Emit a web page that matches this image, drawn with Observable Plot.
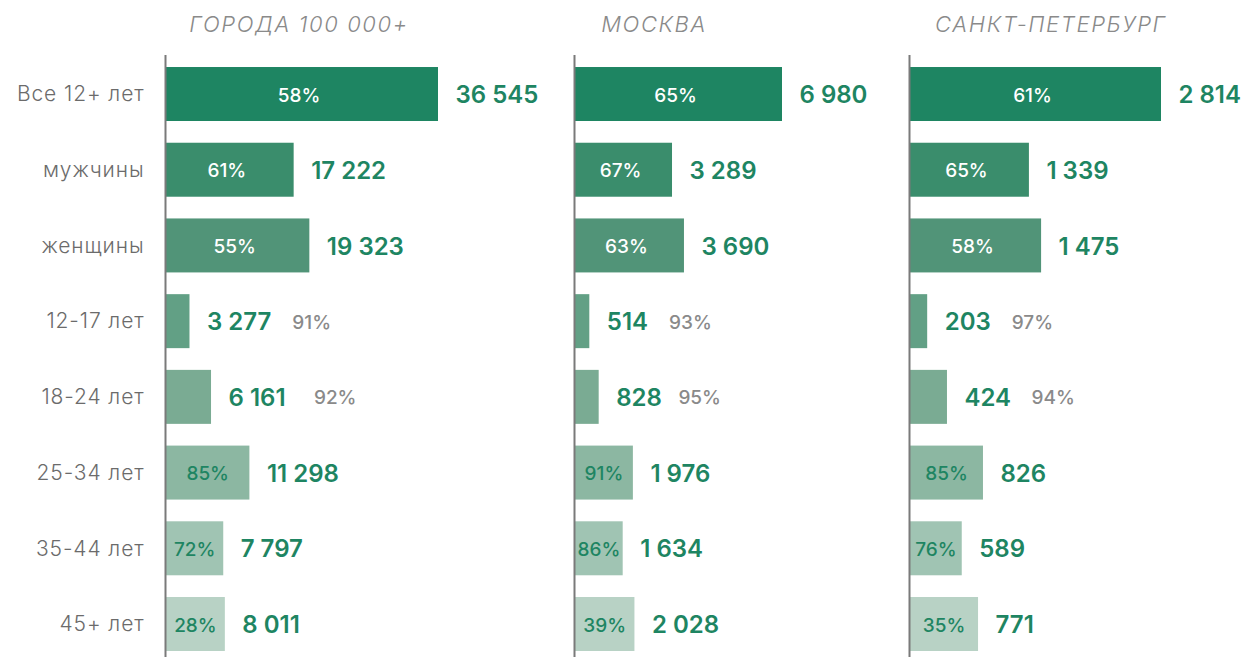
<!DOCTYPE html>
<html>
<head>
<meta charset="utf-8">
<script src="https://cdn.jsdelivr.net/npm/d3@7"></script>
<script src="https://cdn.jsdelivr.net/npm/@observablehq/plot@0.6"></script>
<style>
  body { margin: 0; background: #fff; }
  #wrap { position: relative; width: 1256px; height: 657px; overflow: hidden; font-family: Inter, "Open Sans", sans-serif; }
  .panel { position: absolute; top: 0; }
  .title { position: absolute; top: 9px; width: 400px; text-align: center; font-style: italic; font-weight: 300; font-size: 22px; color: #8a8a8a; line-height: 30px; letter-spacing: 1.6px; }
  #wrap svg g[aria-label="y-axis tick label"] { letter-spacing: 0.9px; }
</style>
</head>
<body>
<div id="wrap"></div>
<script>
// ---- data ----
const categories = ["Все 12+ лет", "мужчины", "женщины", "12-17 лет", "18-24 лет", "25-34 лет", "35-44 лет", "45+ лет"];
const cities = ["ГОРОДА 100 000+", "МОСКВА", "САНКТ-ПЕТЕРБУРГ"];
const values100k = [36545, 17222, 19323, 3277, 6161, 11298, 7797, 8011];
const pct100k    = [58, 61, 55, 91, 92, 85, 72, 28];
const valuesMsk  = [6980, 3289, 3690, 514, 828, 1976, 1634, 2028];
const pctMsk     = [65, 67, 63, 93, 95, 91, 86, 39];
const valuesSpb  = [2814, 1339, 1475, 203, 424, 826, 589, 771];
const pctSpb     = [61, 65, 58, 97, 94, 85, 76, 35];

// ---- style ----
const palette = ["#1e8562", "#3a8d6c", "#519478", "#62a085", "#7aab93", "#8cb7a2", "#a0c4b3", "#b8d2c5"];
const green = "#1e8562";
const fontFamily = "Inter, 'Open Sans', sans-serif";
const valueFont = { size: 24, weight: 600 };
const fmt = d3.formatLocale({ decimal: ",", thousands: " ", grouping: [3], currency: ["", ""] }).format(",d");

const ctx = document.createElement("canvas").getContext("2d");
function textWidth(s, size, weight) {
  ctx.font = `${weight} ${size}px ${fontFamily}`;
  return ctx.measureText(s).width;
}

const layout = [
  { left: 0,   width: 565, marginLeft: 165, marginRight: 127, showY: true,  titleCenter: 299 },
  { left: 565, width: 340, marginLeft: 9,   marginRight: 123, showY: false, titleCenter: 654 },
  { left: 900, width: 356, marginLeft: 9,   marginRight: 95,  showY: false, titleCenter: 1051 }
];
const series = [[values100k, pct100k], [valuesMsk, pctMsk], [valuesSpb, pctSpb]];

const wrap = document.getElementById("wrap");

series.forEach(([values, pcts], k) => {
  const L = layout[k];
  const data = categories.map((c, i) => ({ category: c, value: values[i], pct: pcts[i], i }));
  const inWhite = data.filter(d => d.i < 3);
  const outside = data.filter(d => d.i === 3 || d.i === 4);
  const inGreen = data.filter(d => d.i >= 5);

  const marks = [
    Plot.barX(data, { x: "value", y: "category", fill: "category" }),
    Plot.ruleX([0], { stroke: "#7a7a7a", strokeWidth: 2 }),
    Plot.text(inWhite, { x: d => d.value / 2, y: "category", text: d => d.pct + "%", fill: "#ffffff", fontSize: 19, fontWeight: 500, dx: -3, dy: 1 }),
    Plot.text(inGreen, { x: d => d.value / 2, y: "category", text: d => d.pct + "%", fill: green, fontSize: 19, fontWeight: 500, dy: 1 }),
    Plot.text(data, { x: "value", y: "category", text: d => fmt(d.value), fill: green, fontSize: valueFont.size, fontWeight: valueFont.weight, textAnchor: "start", dx: 17, dy: 1 }),
    Plot.text(outside, { x: "value", y: "category", text: d => d.pct + "%", fill: "#8a8a8a", fontSize: 19, fontWeight: 500, textAnchor: "start",
      dx: 17 + textWidth(fmt(outside[0].value), valueFont.size, valueFont.weight) + 21, dy: 1 })
  ];
  if (L.showY) marks.push(Plot.axisY({ tickSize: 0, tickPadding: 21, fontSize: 21, fontWeight: 300, color: "#6b6b6b", label: null }));

  const chart = Plot.plot({
    width: L.width, height: 657,
    marginTop: 55, marginBottom: 0, marginLeft: L.marginLeft, marginRight: L.marginRight,
    x: { domain: [0, d3.max(values)], axis: null },
    y: { domain: categories, paddingInner: 0.287, paddingOuter: 0.119, align: 0.667, round: false, axis: null },
    color: { domain: categories, range: palette },
    style: { fontFamily, background: "transparent", overflow: "visible" },
    marks
  });
  const holder = document.createElement("div");
  holder.className = "panel";
  holder.style.left = L.left + "px";
  holder.appendChild(chart);
  wrap.appendChild(holder);

  const t = document.createElement("div");
  t.className = "title";
  t.style.left = (L.titleCenter - 200) + "px";
  t.textContent = cities[k];
  wrap.appendChild(t);
});
</script>
</body>
</html>
